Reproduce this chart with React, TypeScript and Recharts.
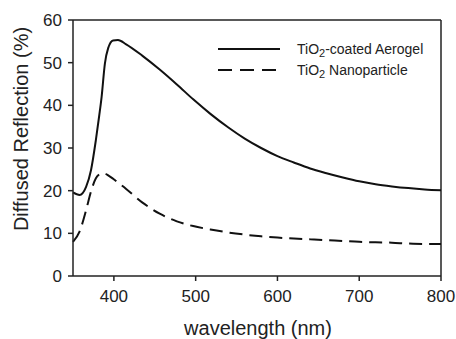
import { LineChart, Line, XAxis, YAxis, Label, CartesianGrid } from 'recharts'

// wavelength (nm)
const wavelength = [350, 358, 366, 372, 378, 382, 385, 389, 393, 399, 405, 415, 435, 456, 477, 497, 518, 540, 560, 580, 600, 620, 640, 660, 680, 700, 720, 740, 760, 780, 800]
// TiO2-coated aerogel (%)
const aerogel = [19.6, 19.0, 20.9, 24.8, 31.9, 37.5, 42, 49.8, 53.4, 55.2, 55.3, 54.3, 51.6, 48.4, 44.9, 41.4, 38.0, 34.8, 32.2, 30.0, 28.1, 26.6, 25.2, 24.1, 23.1, 22.2, 21.5, 21.0, 20.6, 20.3, 20.1]
// TiO2 nanoparticle (%)
const nano = [8.0, 10.4, 15.4, 19.8, 22.9, 23.8, 24.1, 24.0, 23.6, 22.8, 21.9, 20.4, 17.2, 14.6, 12.8, 11.7, 10.9, 10.2, 9.7, 9.3, 9.0, 8.8, 8.6, 8.4, 8.2, 8.0, 7.9, 7.8, 7.6, 7.5, 7.5]

const xTicks = [400, 500, 600, 700, 800]
const yTicks = [0, 10, 20, 30, 40, 50, 60]

const data = wavelength.map((w, i) => ({ w, aerogel: aerogel[i], nano: nano[i] }))

const font = 'Liberation Sans, Arial, sans-serif'
const DASH = '13 7'

function LegendBox() {
  return (
    <svg width={220} height={40} style={{ position: 'absolute', left: 218, top: 40, overflow: 'visible' }}>
      <line x1={0} y1={9} x2={62} y2={9} stroke="#111" strokeWidth={2} />
      <text x={79} y={14} fontSize={14} fontFamily={font} fill="#222">
        TiO<tspan fontSize={11} dy={3}>2</tspan><tspan dy={-3}>-coated Aerogel</tspan>
      </text>
      <line x1={0} y1={30} x2={62} y2={30} stroke="#111" strokeWidth={2} strokeDasharray="14 8" />
      <text x={79} y={35} fontSize={14} fontFamily={font} fill="#222">
        TiO<tspan fontSize={11} dy={3}>2</tspan><tspan dy={-3}> Nanoparticle</tspan>
      </text>
    </svg>
  )
}

export default function App() {
  return (
    <div style={{ position: 'absolute', left: 0, top: 0, width: 456, height: 339, background: '#fff' }}>
      <LineChart width={456} height={339} data={data} margin={{ top: 20, right: 15, left: 0, bottom: 0 }}>
        {/* top and right edges of the plot box */}
        <CartesianGrid horizontalValues={[60]} verticalValues={[800]} stroke="#222" strokeWidth={1.5} />
        <XAxis
          dataKey="w"
          type="number"
          domain={[350, 800]}
          ticks={xTicks}
          tickSize={5}
          tickMargin={9}
          height={63}
          stroke="#222"
          strokeWidth={1.5}
          tick={{ fontSize: 17, fontFamily: font, fill: '#222' }}
        >
          <Label
            content={() => (
              <text x={258} y={335} textAnchor="middle" fontSize={20} fontFamily={font} fill="#222">
                wavelength (nm)
              </text>
            )}
          />
        </XAxis>
        <YAxis
          domain={[0, 60]}
          ticks={yTicks}
          width={73}
          tickSize={5}
          tickMargin={6}
          stroke="#222"
          strokeWidth={1.5}
          tick={{ fontSize: 17, fontFamily: font, fill: '#222' }}
        >
          <Label
            content={() => (
              <text x={28} y={129} transform="rotate(-90, 28, 129)" textAnchor="middle" fontSize={20} fontFamily={font} fill="#222">
                Diffused Reflection (%)
              </text>
            )}
          />
        </YAxis>
        <Line type="monotone" dataKey="aerogel" stroke="#111" strokeWidth={2} dot={false} isAnimationActive={false} />
        <Line type="monotone" dataKey="nano" stroke="#111" strokeWidth={2} strokeDasharray={DASH} dot={false} isAnimationActive={false} />
      </LineChart>
      <LegendBox />
    </div>
  )
}
